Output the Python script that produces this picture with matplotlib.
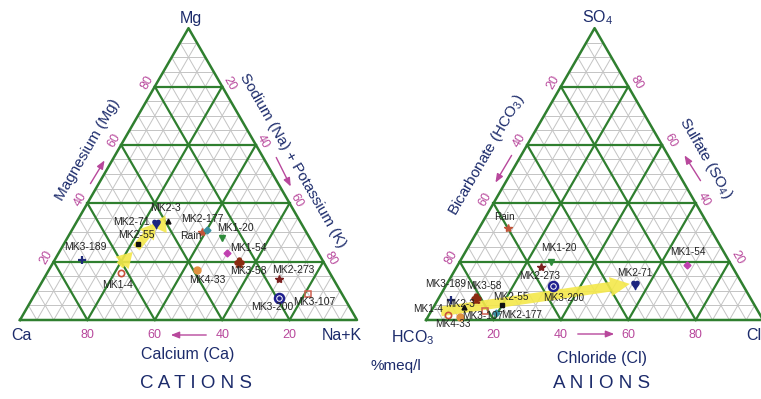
import matplotlib
matplotlib.use('Agg')
import matplotlib.pyplot as plt
import numpy as np
from matplotlib.patches import FancyArrowPatch

plt.rcParams['font.family'] = ['Liberation Sans', 'DejaVu Sans']
plt.rcParams['mathtext.fontset'] = 'custom'
plt.rcParams['mathtext.rm'] = 'Liberation Sans'

# ---------------- data (percent meq/l) ----------------
samples = ['MK1-4', 'MK2-3', 'MK2-55', 'MK2-71', 'MK3-189', 'Rain', 'MK2-177',
           'MK1-20', 'MK1-54', 'MK3-58', 'MK4-33', 'MK2-273', 'MK3-200', 'MK3-107']
cat_mg  = [16, 34, 26, 33, 20.5, 30, 31, 28, 23, 20, 17, 14, 7.5, 9]
cat_nak = [22, 27, 22, 24, 8, 39, 40, 46, 50, 55, 44, 70, 73, 81]
cat_ca  = [62, 39, 52, 43, 71.5, 31, 29, 26, 27, 25, 39, 16, 19.5, 10]

an_so4  = [1.7, 4.5, 5, 12, 7, 31.5, 2.5, 20, 19, 7.5, 1, 18, 11.5, 3]
an_cl   = [5.7, 9, 20, 56, 4, 8.5, 19.5, 27, 68, 11, 9.7, 25, 32, 16]
an_hco3 = [92.6, 86.5, 75, 32, 89, 60, 78, 53, 13, 81.5, 89.3, 57, 56.5, 81]

# yellow trend arrows (ternary compositions: Ca, Mg, Na+K / HCO3, SO4, Cl)
cat_arrow_start = [[62, 18, 20], [54, 24, 22], [42, 34, 24]]
cat_arrow_end   = [[54, 24, 22], [42, 34, 24], [41.5, 29, 29.5]]
an_arrow_start = [[95, 2.8, 2.2]]
an_arrow_end   = [[32.5, 12.5, 55]]

ticks = [20, 40, 60, 80]

# ---------------- styles ----------------
styles = {
    'MK1-4':   dict(marker='o', ms=4.5, mfc='none', mec='#c8503c', mew=1.2),
    'MK2-3':   dict(marker='^', ms=3.5, mfc='#111111', mec='#111111'),
    'MK2-55':  dict(marker='s', ms=3, mfc='#111111', mec='#111111'),
    'MK2-71':  dict(marker='$♥$', ms=6, mfc='#1c2580', mec='#1c2580'),
    'MK3-189': dict(marker='+', ms=6, mec='#1f2a7a', mew=1.6),
    'Rain':    dict(marker='*', ms=6, mfc='#c0553a', mec='#c0553a'),
    'MK2-177': dict(marker='D', ms=3.5, mfc='#3a8fa0', mec='#3a8fa0'),
    'MK1-20':  dict(marker='v', ms=5, mfc='#2e8b3a', mec='#2e8b3a'),
    'MK1-54':  dict(marker='D', ms=3.5, mfc='#c040b0', mec='#c040b0'),
    'MK3-58':  dict(marker='$♣$', ms=6.5, mfc='#8b2a10', mec='#8b2a10'),
    'MK4-33':  dict(marker='o', ms=5, mfc='#e09040', mec='#e09040'),
    'MK2-273': dict(marker='*', ms=6, mfc='#7a1f1f', mec='#7a1f1f'),
    'MK3-200': dict(marker='o', ms=6.5, mfc='white', mec='#1f1f8f', mew=1.8),
    'MK3-107': dict(marker='s', ms=4.5, mfc='none', mec='#d06050', mew=1.1),
}
cat_off = {'MK3-189': (4, 13), 'MK1-4': (-4, -12), 'MK2-55': (-2, 9), 'MK2-71': (-25, 2),
           'MK2-3': (-3, 13), 'MK2-177': (-5, 11), 'Rain': (-11, -4), 'MK1-20': (13, 10),
           'MK1-54': (21, 5), 'MK3-58': (9, -9), 'MK4-33': (10, -10), 'MK2-273': (14, 9),
           'MK3-200': (-6, -9), 'MK3-107': (6, -8)}
an_off = {'Rain': (-3, 11), 'MK1-20': (8, 14), 'MK2-273': (-1, -9), 'MK3-200': (10, -12),
          'MK2-71': (0, 12), 'MK1-54': (1, 13), 'MK3-189': (-6, 16), 'MK3-58': (8, 12),
          'MK2-3': (-4, 3), 'MK1-4': (-20, 6), 'MK4-33': (-8, -7), 'MK3-107': (-2, -5),
          'MK2-177': (26, -2), 'MK2-55': (9, 8)}

NAVY = '#1c2b6b'
MAG = '#b8489c'
GREEN = '#2f7f2f'
GRAY = '#c4c4c4'
H = np.sqrt(3) / 2
OFF = 1.205
S = 337.0

fig = plt.figure(figsize=(7.61, 3.99), dpi=100)
fig.patch.set_facecolor('white')
ax = fig.add_axes([0, 0, 1, 1])
ax.set_xlim(-20 / S, 741 / S)
ax.set_ylim(-79 / S, 320 / S)
ax.axis('off')


def cat_xy(ca, mg, nak):
    t = ca + mg + nak
    return (nak + mg / 2) / t, mg * H / t


def an_xy(hco3, so4, cl):
    t = hco3 + so4 + cl
    return OFF + (cl + so4 / 2) / t, so4 * H / t


def grid(ox):
    for p in range(5, 100, 5):
        f = p / 100
        major = p % 20 == 0
        c = GREEN if major else GRAY
        lw = 1.6 if major else 0.7
        z = 2 if major else 1
        ax.plot([ox + f / 2, ox + 1 - f / 2], [f * H, f * H], color=c, lw=lw, zorder=z)
        ax.plot([ox + f, ox + f + (1 - f) / 2], [0, (1 - f) * H], color=c, lw=lw, zorder=z)
        ax.plot([ox + 1 - f, ox + (1 - f) / 2], [0, (1 - f) * H], color=c, lw=lw, zorder=z)
    ax.plot([ox, ox + 1, ox + 0.5, ox], [0, 0, H, 0], color=GREEN, lw=1.8, zorder=2)


grid(0)
grid(OFF)

# yellow arrows
def yarrow(p0, p1, tail, head, headlen):
    a = FancyArrowPatch(p0, p1, arrowstyle=f'simple,head_width={head},head_length={headlen},tail_width={tail}',
                        color='#f4e84a', alpha=0.9, zorder=3, mutation_scale=1, lw=0)
    ax.add_patch(a)

for s, e in zip(cat_arrow_start, cat_arrow_end):
    yarrow(cat_xy(*s), cat_xy(*e), 6, 13, 11)
for s, e in zip(an_arrow_start, an_arrow_end):
    yarrow(an_xy(*s), an_xy(*e), 7, 14, 14)

# sample points
for i, name in enumerate(samples):
    st = styles[name]
    x, y = cat_xy(cat_ca[i], cat_mg[i], cat_nak[i])
    ax.plot([x], [y], ls='none', zorder=5, **st)
    ax.annotate(name, (x, y), xytext=cat_off[name], textcoords='offset pixels',
                ha='center', va='center', fontsize=7.5, color='#222222', zorder=6)
    x, y = an_xy(an_hco3[i], an_so4[i], an_cl[i])
    ax.plot([x], [y], ls='none', zorder=5, **st)
    ax.annotate(name, (x, y), xytext=an_off[name], textcoords='offset pixels',
                ha='center', va='center', fontsize=7.2, color='#222222', zorder=6)
    if name == 'MK3-200':
        for xx, yy in [cat_xy(cat_ca[i], cat_mg[i], cat_nak[i]), an_xy(an_hco3[i], an_so4[i], an_cl[i])]:
            ax.plot([xx], [yy], marker='o', ms=2.2, color='#1f1f8f', zorder=6)

# tick labels
for v in ticks:
    f = v / 100
    # cations
    ax.annotate(str(v), (1 - f, 0), xytext=(0, -15), textcoords='offset pixels',
                ha='center', va='center', fontsize=9, color=MAG)
    ax.annotate(str(v), (f / 2, f * H), xytext=(-7, 4), textcoords='offset pixels',
                ha='center', va='center', fontsize=9, color=MAG, rotation=60)
    ax.annotate(str(v), ((1 + f) / 2, (1 - f) * H), xytext=(7, 3), textcoords='offset pixels',
                ha='center', va='center', fontsize=9, color=MAG, rotation=-60)
    # anions
    ax.annotate(str(v), (OFF + f, 0), xytext=(0, -15), textcoords='offset pixels',
                ha='center', va='center', fontsize=9, color=MAG)
    ax.annotate(str(v), (OFF + (1 - f) / 2, (1 - f) * H), xytext=(-8, 4), textcoords='offset pixels',
                ha='center', va='center', fontsize=9, color=MAG, rotation=60)
    ax.annotate(str(v), (OFF + 1 - f / 2, f * H), xytext=(8, 4), textcoords='offset pixels',
                ha='center', va='center', fontsize=9, color=MAG, rotation=-60)


def px(x, y):
    return (x - 20) / S, (320 - y) / S


def txt(x, y, s, **kw):
    X, Y = px(x, y)
    ax.text(X, Y, s, ha='center', va='center', color=NAVY, **kw)


# vertex labels
txt(191, 19, 'Mg', fontsize=11.5)
txt(21, 336, 'Ca', fontsize=11.5)
txt(342, 336, 'Na+K', fontsize=11.5)
txt(598, 18, 'SO$_4$', fontsize=11.5)
txt(413, 338, 'HCO$_3$', fontsize=11.5)
txt(754, 336, 'Cl', fontsize=11.5)

# axis titles
txt(188, 355, 'Calcium (Ca)', fontsize=11.5)
txt(602, 359, 'Chloride (Cl)', fontsize=11.5)
txt(88, 150, 'Magnesium (Mg)', fontsize=11, rotation=60)
txt(293, 161, 'Sodium (Na) + Potassium (K)', fontsize=11, rotation=-60)
txt(487, 155, 'Bicarbonate (HCO$_3$)', fontsize=11, rotation=60)
txt(706, 158, 'Sulfate (SO$_4$)', fontsize=11, rotation=-60)
txt(396, 366, '%meq/l', fontsize=11)
txt(196, 383, 'C A T I O N S', fontsize=13.5)
txt(602, 383, 'A N I O N S', fontsize=13.5)

# direction arrows
def marrow(x0, y0, x1, y1):
    ax.annotate('', xy=px(x1, y1), xytext=px(x0, y0),
                arrowprops=dict(arrowstyle='-|>,head_length=0.5,head_width=0.2', color=MAG, lw=1.0))

marrow(89, 186, 106, 158)
marrow(275, 155, 292, 189)
marrow(209, 335, 168, 335)
marrow(513, 153, 494, 185)
marrow(702, 183, 683, 153)
marrow(575, 334, 617, 334)

fig.savefig('out.png', dpi=100, facecolor='white')
